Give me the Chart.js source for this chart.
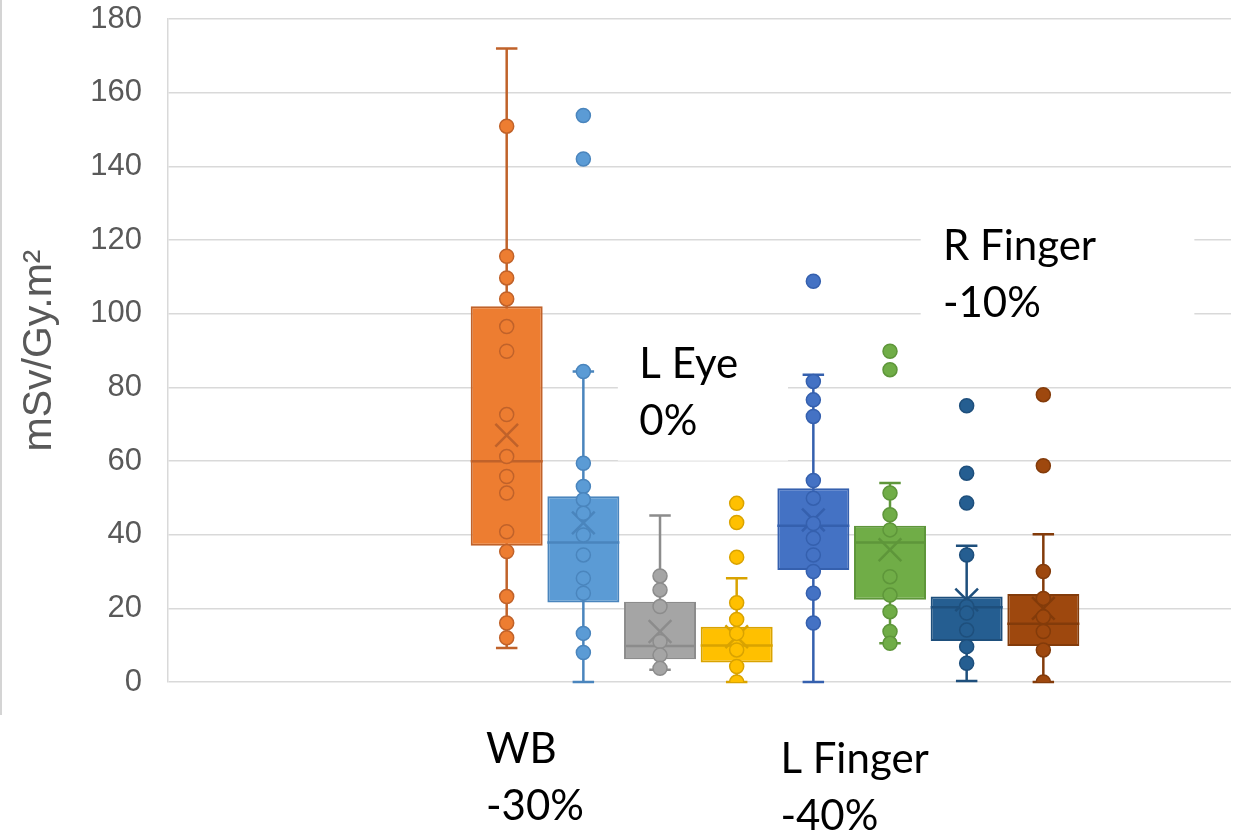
<!DOCTYPE html>
<html>
<head>
<meta charset="utf-8">
<script src="https://cdn.jsdelivr.net/npm/chart.js@4.4.0/dist/chart.umd.min.js"></script>
<style>
  html, body { margin: 0; background: #fff; }
  #wrap { position: relative; width: 1234px; height: 835px; }
  #edge { position: absolute; left: 0; top: 0; width: 2px; height: 715px; background: #d4d4d4; }
</style>
</head>
<body>
<div id="wrap"><canvas id="chart"></canvas><div id="edge"></div></div>
<script>
// Series (pairs per body region)
const seriesNames = ['WB 1', 'WB 2', 'L Eye 1', 'L Eye 2', 'L Finger 1', 'L Finger 2', 'R Finger 1', 'R Finger 2'];
const fillColors   = ['#ED7D31', '#5B9BD5', '#A5A5A5', '#FFC000', '#4472C4', '#70AD47', '#255E91', '#9E480E'];
const edgeColors   = ['#C0622A', '#4A85BD', '#8C8C8C', '#D9A300', '#3560AE', '#5E963A', '#1E4F7C', '#833B0A'];

// Box statistics (mSv/Gy.m²)
const whiskerMin = [9.2, 0, 3.3, 0, 0, 10.5, 0.3, 0];
const q1         = [37, 21.6, 6.2, 5.3, 30.4, 22.3, 11.1, 9.8];
const median     = [59.9, 37.9, 9.8, 9.9, 42.4, 37.9, 20.3, 15.8];
const q3         = [102, 50.4, 21.8, 15, 52.6, 42.4, 23.2, 23.9];
const whiskerMax = [172, 84.3, 45.2, 28.2, 83.4, 54, 37, 40.1];
const means      = [67, 43.2, 13.7, 12.3, 44, 35.9, 22.3, 20];

// Individual points shown for each series
const pointsWB1 = [150.9, 115.6, 109.7, 104, 96.5, 89.8, 72.6, 61.2, 55.8, 51.3, 40.8, 35.4, 23.2, 16, 12];
const pointsWB2 = [153.8, 142, 84.3, 59.4, 53.1, 49.5, 45.8, 39.9, 34.5, 28.2, 24.1, 13.2, 8];
const pointsEye1 = [28.8, 25, 20.5, 11, 7.3, 3.7];
const pointsEye2 = [48.5, 43.3, 33.9, 21.5, 17, 13.2, 8.7, 4.2, 0];
const pointsLF1 = [108.8, 81.6, 76.6, 72.1, 54.7, 49.9, 43, 39, 34.5, 30, 24.1, 16];
const pointsLF2 = [89.8, 84.8, 51.3, 45.4, 41.3, 28.6, 23.6, 19.1, 13.7, 10.5];
const pointsRF1 = [75, 56.7, 48.6, 34.5, 20.5, 18.7, 14.1, 9.6, 5.1];
const pointsRF2 = [78, 58.7, 30, 22.7, 17.7, 13.7, 8.7, 0];
const allPoints = [pointsWB1, pointsWB2, pointsEye1, pointsEye2, pointsLF1, pointsLF2, pointsRF1, pointsRF2];

// Y axis
const yMin = 0, yMax = 180, yStep = 20;
const yTitle = 'mSv/Gy.m²';

// Text notes placed in data units (x = series index, y = value)
const notes = [
  { lines: ['WB', '-30%'], x: -0.27, y: -22 },
  { lines: ['L Eye', '0%'], x: 1.73, y: 82.6 },
  { lines: ['L Finger', '-40%'], x: 3.57, y: -24.7 },
  { lines: ['R Finger', '-10%'], x: 5.69, y: 114.7 }
];
// white panels behind the notes inside the plot
const panels = [
  { x0: 1.45, x1: 3.67, y0: 97, y1: 60.1 },
  { x0: 5.40, x1: 8.97, y0: 131, y1: 95.7 }
];

const idx = seriesNames.map((_, i) => i);

const boxParts = {
  id: 'boxParts',
  beforeDatasetsDraw(chart) {
    const { ctx, scales: { x, y } } = chart;
    ctx.save();
    // panels and notes
    ctx.fillStyle = '#fff';
    panels.forEach(p => {
      const px0 = x.getPixelForValue(p.x0), px1 = x.getPixelForValue(p.x1);
      const py0 = y.getPixelForValue(p.y0), py1 = y.getPixelForValue(p.y1);
      ctx.fillRect(px0, py0, px1 - px0, py1 - py0);
    });
    ctx.fillStyle = '#000';
    ctx.font = '42px Lato';
    ctx.textAlign = 'left';
    ctx.textBaseline = 'alphabetic';
    notes.forEach(n => {
      const px = x.getPixelForValue(n.x), py = y.getPixelForValue(n.y);
      n.lines.forEach((t, k) => ctx.fillText(t, px, py + k * 57));
    });
    // whiskers and caps
    const capHalf = (x.getPixelForValue(0.14) - x.getPixelForValue(0));
    idx.forEach(i => {
      const cx = x.getPixelForValue(i);
      const yTop = y.getPixelForValue(whiskerMax[i]);
      const yBot = y.getPixelForValue(whiskerMin[i]);
      ctx.strokeStyle = edgeColors[i];
      ctx.lineWidth = 2.5;
      ctx.beginPath();
      ctx.moveTo(cx, yTop); ctx.lineTo(cx, yBot);
      ctx.moveTo(cx - capHalf, yTop); ctx.lineTo(cx + capHalf, yTop);
      ctx.moveTo(cx - capHalf, yBot); ctx.lineTo(cx + capHalf, yBot);
      ctx.stroke();
    });
    ctx.restore();
  },
  afterDatasetDraw(chart, args) {
    if (args.meta.type !== 'bar') return;
    const { ctx, scales: { y } } = chart;
    ctx.save();
    args.meta.data.forEach((bar, i) => {
      const half = bar.width / 2;
      const my = y.getPixelForValue(median[i]);
      ctx.strokeStyle = edgeColors[i];
      ctx.lineWidth = 2.5;
      ctx.beginPath();
      ctx.moveTo(bar.x - half, my); ctx.lineTo(bar.x + half, my);
      ctx.stroke();
    });
    ctx.restore();
  }
};

const pointSets = allPoints.map((vals, i) => ({
  type: 'scatter',
  label: seriesNames[i],
  data: vals.map(v => ({ x: i, y: v })),
  pointRadius: 7,
  pointBackgroundColor: fillColors[i],
  pointBorderColor: edgeColors[i],
  pointBorderWidth: 1.5,
  order: 0
}));

new Chart(document.getElementById('chart'), {
  type: 'bar',
  data: {
    datasets: [
      {
        type: 'bar',
        label: 'boxes',
        data: idx.map(i => ({ x: i, y: [q1[i], q3[i]] })),
        backgroundColor: fillColors,
        borderColor: edgeColors,
        borderWidth: 2,
        borderSkipped: false,
        categoryPercentage: 1,
        barPercentage: 0.939,
        order: 2
      },
      {
        type: 'scatter',
        label: 'mean',
        data: idx.map(i => ({ x: i, y: means[i] })),
        pointStyle: 'crossRot',
        pointRadius: 16,
        pointBorderColor: edgeColors,
        pointBorderWidth: 2.5,
        order: 1
      },
      ...pointSets
    ]
  },
  options: {
    responsive: true,
    maintainAspectRatio: false,
    animation: false,
    layout: { autoPadding: false, padding: { top: 19, right: 3, bottom: 153, left: 0 } },
    plugins: { legend: { display: false }, tooltip: { enabled: false } },
    scales: {
      x: { type: 'linear', display: false, offset: false, min: -4.418, max: 9.448 },
      y: {
        min: yMin, max: yMax,
        ticks: { stepSize: yStep, padding: 26, color: '#595959', font: { family: 'Liberation Sans', size: 31 } },
        grid: { color: '#D9D9D9', lineWidth: 1.5, drawTicks: false },
        border: { display: true, color: '#D9D9D9', width: 1.5 },
        title: {
          display: true, text: yTitle, color: '#595959',
          font: { family: 'Liberation Sans', size: 41 },
          padding: { top: 15, bottom: 0 }
        },
        afterFit: s => { s.width = 168; s.paddingTop = 0; s.paddingBottom = 0; }
      }
    }
  },
  plugins: [boxParts]
});
</script>
</body>
</html>
